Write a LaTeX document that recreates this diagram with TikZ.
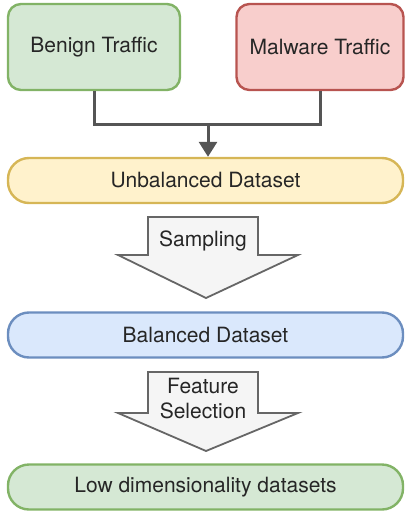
\documentclass[tikz,border=0pt]{standalone}
\usepackage{fontspec}
\setmainfont{TeX Gyre Heros}
\usetikzlibrary{arrows.meta}
\definecolor{gfill}{HTML}{D5E8D4}\definecolor{gline}{HTML}{82B366}
\definecolor{rfill}{HTML}{F8CECC}\definecolor{rline}{HTML}{B85450}
\definecolor{yfill}{HTML}{FFF2CC}\definecolor{yline}{HTML}{D6B656}
\definecolor{bfill}{HTML}{DAE8FC}\definecolor{bline}{HTML}{6C8EBF}
\definecolor{afill}{HTML}{F5F5F5}\definecolor{aline}{HTML}{666666}
\definecolor{conn}{HTML}{555555}
\begin{document}
\begin{tikzpicture}[x=1pt,y=-1pt,
  box/.style={draw, line width=2.4pt, rounded corners=13pt, font=\fontsize{21}{24}\selectfont, text=black!85, inner sep=0pt},
  wide/.style={box, minimum width=395pt, minimum height=45pt, rounded corners=21pt},
  blockarrow/.style={draw=aline, fill=afill, line width=1.8pt, line join=miter},
  lbl/.style={font=\fontsize{21}{25}\selectfont, text=black!85, align=center, inner sep=0pt}]
\useasboundingbox (0,0) rectangle (405,513);
\node[box, fill=gfill, draw=gline, minimum width=172pt, minimum height=86pt] (benign) at (94,47) {Benign Traffic};
\node[box, fill=rfill, draw=rline, minimum width=167pt, minimum height=86pt] (malware) at (320,47) {Malware Traffic};
\node[wide, fill=yfill, draw=yline] (unb) at (205.5,180.5) {Unbalanced Dataset};
\node[wide, fill=bfill, draw=bline] (bal) at (205.5,335) {Balanced Dataset};
\node[wide, fill=gfill, draw=gline] (low) at (205.5,487) {Low dimensionality datasets};
\coordinate (mid) at (208,125);
\draw[conn, line width=3pt] (benign.south) |- (mid) -| (malware.south);
\draw[conn, line width=3pt, -{Triangle[width=18pt,length=15pt]}] (mid) -- ([xshift=2.5pt]unb.north);
% Sampling block arrow
\draw[blockarrow] (148,217) -- (258,217) -- (258,255) -- (298,255) -- (206,298) -- (118,255) -- (148,255) -- cycle;
\node[lbl] (samp) at (203,241) {Sampling};
% Feature selection block arrow
\draw[blockarrow] (148,372) -- (258,372) -- (258,413) -- (298,413) -- (206,451) -- (118,413) -- (148,413) -- cycle;
\node[lbl] (feat) at (203,399) {Feature\\Selection};
\end{tikzpicture}
\end{document}
